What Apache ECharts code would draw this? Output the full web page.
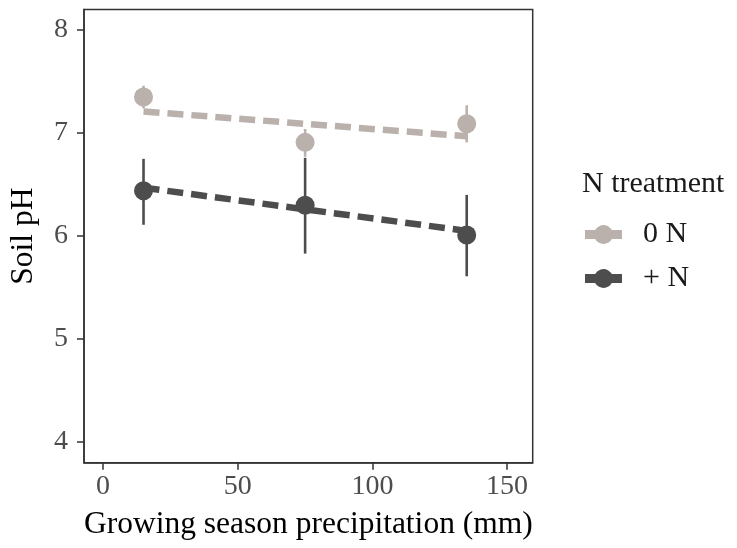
<!DOCTYPE html>
<html>
<head>
<meta charset="utf-8">
<script src="https://cdn.jsdelivr.net/npm/echarts@6/dist/echarts.min.js"></script>
<style>
  html, body { margin: 0; padding: 0; background: #ffffff; }
  #chart { width: 737px; height: 548px; }
</style>
</head>
<body>
<div id="chart"></div>
<script>
// Growing season precipitation (mm) for each site
const precipitation = [15, 75, 135];

// Mean soil pH and error-bar limits, no added N
const phZeroN = [7.35, 6.91, 7.09];
const phZeroNLow = [7.24, 6.77, 6.91];
const phZeroNHigh = [7.46, 7.04, 7.27];

// Mean soil pH and error-bar limits, with added N
const phPlusN = [6.44, 6.30, 6.01];
const phPlusNLow = [6.11, 5.83, 5.61];
const phPlusNHigh = [6.75, 6.76, 6.40];

// Linear fit end points (at the lowest and highest precipitation)
const fitX = [15, 135];
const fitZeroN = [7.21, 6.97];
const fitPlusN = [6.47, 6.05];

// Tick labels
const xTicks = [0, 50, 100, 150];
const yTicks = [4, 5, 6, 7, 8];

const groupNames = ['0 N', '+ N'];
const colorZeroN = '#bab0ac';
const colorPlusN = '#4d4d4d';
const font = 'Liberation Serif, Times New Roman, serif';

const pairs = (xs, ys) => xs.map((x, i) => [x, ys[i]]);
const barData = (lo, hi) => precipitation.map((x, i) => [x, lo[i], hi[i]]);

// legend key: a thick line segment with a dot in the middle
const keyIcon = 'path://M0,5L10.13,5A9.5,9.5,0,0,1,26.87,5L37,5L37,14L26.87,14A9.5,9.5,0,0,1,10.13,14L0,14Z';

function errorBar(color) {
  return function (params, api) {
    const top = api.coord([api.value(0), api.value(2)]);
    const bottom = api.coord([api.value(0), api.value(1)]);
    return {
      type: 'line',
      shape: { x1: top[0], y1: top[1], x2: bottom[0], y2: bottom[1] },
      style: { stroke: color, lineWidth: 2.6 }
    };
  };
}

const chart = echarts.init(document.getElementById('chart'), null, { renderer: 'canvas' });

chart.setOption({
  animation: false,
  backgroundColor: '#ffffff',
  title: {
    text: 'N treatment',
    left: 582,
    top: 169,
    padding: 0,
    textStyle: { fontFamily: font, fontSize: 30, fontWeight: 'normal', color: '#1a1a1a' }
  },
  legend: {
    orient: 'vertical',
    left: 585,
    top: 219.5,
    padding: 0,
    itemWidth: 37,
    itemHeight: 19,
    itemGap: 14,
    selectedMode: false,
    data: groupNames.map(n => ({ name: n, icon: keyIcon })),
    textStyle: { fontFamily: font, fontSize: 30, color: '#1a1a1a', padding: [0, 0, 0, 16] }
  },
  grid: {
    left: 80.7,
    right: 204.3,
    top: 9.5,
    bottom: 85.3,
    show: true,
    borderColor: '#333333',
    borderWidth: 1.5,
    backgroundColor: '#ffffff'
  },
  xAxis: {
    type: 'value',
    min: -7.1,
    max: 159.5,
    name: 'Growing season precipitation (mm)',
    nameLocation: 'middle',
    nameGap: 46,
    nameTextStyle: { fontFamily: font, fontSize: 31.5, color: '#000000' },
    axisLine: { show: true, onZero: false, lineStyle: { color: '#333333', width: 1.5 } },
    axisTick: { show: true, length: 7, customValues: xTicks, lineStyle: { color: '#333333', width: 1.5 } },
    axisLabel: { customValues: xTicks, margin: 10, fontFamily: font, fontSize: 28, color: '#4d4d4d' },
    splitLine: { show: false }
  },
  yAxis: {
    type: 'value',
    min: 3.8,
    max: 8.2,
    name: 'Soil pH',
    nameLocation: 'middle',
    nameGap: 44,
    nameTextStyle: { fontFamily: font, fontSize: 31.5, color: '#000000' },
    axisLine: { show: true, onZero: false, lineStyle: { color: '#333333', width: 1.5 } },
    axisTick: { show: true, length: 7, customValues: yTicks, lineStyle: { color: '#333333', width: 1.5 } },
    axisLabel: { customValues: yTicks, margin: 16, fontFamily: font, fontSize: 28, color: '#4d4d4d' },
    splitLine: { show: false }
  },
  series: [
    {
      name: 'fit 0 N',
      type: 'line',
      data: pairs(fitX, fitZeroN),
      symbol: 'none',
      z: 2,
      lineStyle: { color: colorZeroN, width: 6.5, type: [16, 8] }
    },
    {
      name: 'fit + N',
      type: 'line',
      data: pairs(fitX, fitPlusN),
      symbol: 'none',
      z: 2,
      lineStyle: { color: colorPlusN, width: 6.5, type: [16, 8] }
    },
    {
      name: 'bars 0 N',
      type: 'custom',
      renderItem: errorBar(colorZeroN),
      encode: { x: 0, y: [1, 2] },
      data: barData(phZeroNLow, phZeroNHigh),
      z: 3
    },
    {
      name: 'bars + N',
      type: 'custom',
      renderItem: errorBar(colorPlusN),
      encode: { x: 0, y: [1, 2] },
      data: barData(phPlusNLow, phPlusNHigh),
      z: 4
    },
    {
      name: '0 N',
      type: 'scatter',
      data: pairs(precipitation, phZeroN),
      symbol: 'circle',
      symbolSize: 19,
      z: 5,
      itemStyle: { color: colorZeroN, opacity: 1 }
    },
    {
      name: '+ N',
      type: 'scatter',
      data: pairs(precipitation, phPlusN),
      symbol: 'circle',
      symbolSize: 19,
      z: 6,
      itemStyle: { color: colorPlusN, opacity: 1 }
    }
  ]
});
</script>
</body>
</html>
